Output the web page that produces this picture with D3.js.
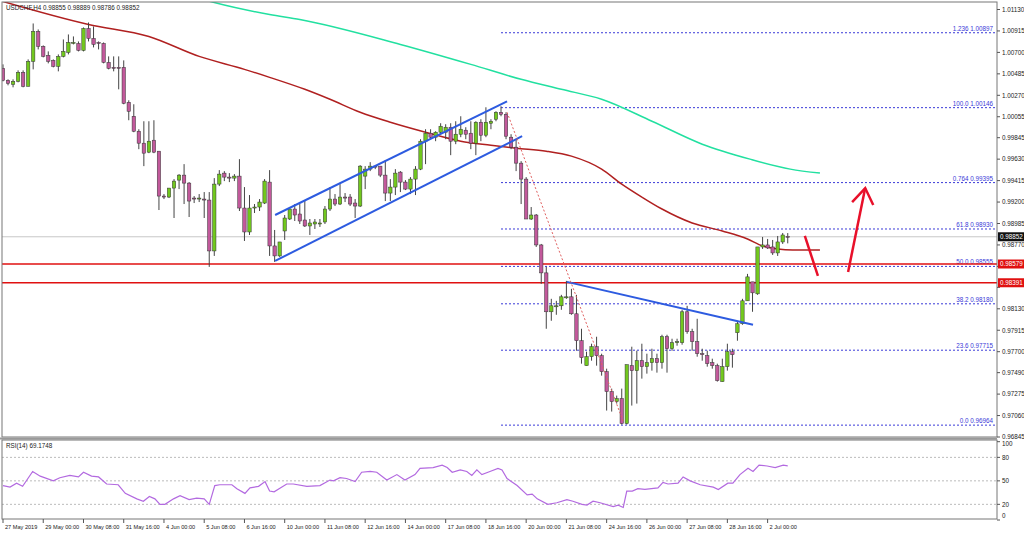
<!DOCTYPE html>
<html><head><meta charset="utf-8">
<script src="https://cdn.jsdelivr.net/npm/d3@7"></script>
<style>body{margin:0;background:#fff}svg{display:block;font-family:"Liberation Sans",Arial,sans-serif}</style>
</head><body><svg id="c" width="1024" height="534"></svg>
<script>
const open=[1.0054,1.0042,1.0038,1.0041,1.0050,1.0036,1.0061,1.0091,1.0076,1.0067,
1.0062,1.0056,1.0066,1.0070,1.0079,1.0079,1.0072,1.0094,1.0084,1.0080,
1.0079,1.0060,1.0055,1.0055,1.0055,1.0020,1.0006,0.9991,0.9979,0.9970,
0.9982,0.9971,0.9926,0.9925,0.9934,0.9942,0.9947,0.9939,0.9924,0.9923,
0.9923,0.9922,0.9871,0.9938,0.9949,0.9945,0.9944,0.9946,0.9914,0.9890,
0.9914,0.9915,0.9919,0.9940,0.9876,0.9866,0.9891,0.9903,0.9913,0.9908,
0.9902,0.9896,0.9898,0.9898,0.9900,0.9913,0.9923,0.9918,0.9925,0.9925,
0.9919,0.9916,0.9946,0.9953,0.9956,0.9956,0.9947,0.9929,0.9935,0.9950,
0.9940,0.9933,0.9943,0.9953,0.9981,0.9989,0.9985,0.9990,0.9990,0.9995,
0.9981,0.9988,0.9992,0.9989,0.9979,1.0000,0.9987,0.9999,1.0003,1.0010,
1.0008,0.9985,0.9975,0.9959,0.9943,0.9903,0.9907,0.9877,0.9849,0.9810,
0.9815,0.9816,0.9824,0.9825,0.9808,0.9781,0.9756,0.9765,0.9775,0.9766,
0.9750,0.9730,0.9720,0.9723,0.9698,0.9756,0.9751,0.9761,0.9755,0.9759,
0.9763,0.9759,0.9785,0.9773,0.9779,0.9779,0.9810,0.9790,0.9780,0.9768,
0.9766,0.9759,0.9756,0.9740,0.9755,0.9770,0.9789,0.9798,0.9821,0.9840,
0.9828,0.9875,0.9877,0.9875,0.9869,0.9880,0.98855];
const high=[1.0058,1.0043,1.0043,1.0052,1.0052,1.0063,1.0099,1.0093,1.0077,1.0071,
1.0063,1.0068,1.0083,1.0088,1.0086,1.0081,1.0095,1.0100,1.0096,1.0081,
1.0080,1.0066,1.0066,1.0066,1.0062,1.0022,1.0018,0.9993,1.0001,1.0001,
1.0002,0.9971,0.9928,0.9934,0.9943,0.9948,0.9958,0.9940,0.9926,0.9928,
0.9930,0.9930,0.9944,0.9952,0.9951,0.9949,0.9948,0.9963,0.9935,0.9927,
0.9918,0.9923,0.9943,0.9952,0.9892,0.9880,0.9907,0.9915,0.9918,0.9918,
0.9922,0.9903,0.9903,0.9903,0.9916,0.9935,0.9928,0.9938,0.9929,0.9928,
0.9923,0.9957,0.9956,0.9960,0.9956,0.9956,0.9962,0.9943,0.9953,0.9951,
0.9942,0.9945,0.9956,0.9983,0.9993,0.9993,0.9991,0.9999,0.9998,0.9999,
1.0001,1.0006,0.9995,1.0001,1.0001,1.0003,1.0015,1.0003,1.0011,1.0016,
1.0010,0.9988,0.9983,0.9961,0.9945,0.9915,0.9908,0.9878,0.9855,0.9823,
0.9821,0.9827,0.9841,0.9833,0.9827,0.9793,0.9770,0.9778,0.9785,0.9768,
0.9753,0.9733,0.9726,0.9733,0.9757,0.9775,0.9771,0.9778,0.9768,0.9773,
0.9768,0.9787,0.9787,0.9783,0.9783,0.9812,0.9816,0.9793,0.9803,0.9773,
0.9771,0.9763,0.9758,0.9763,0.9778,0.9773,0.9801,0.9823,0.9848,0.9840,
0.9875,0.9885,0.9883,0.9882,0.9886,0.9889,0.98889];
const low=[1.0041,1.0037,1.0035,1.0040,1.0035,1.0036,1.0053,1.0073,1.0065,1.0059,
1.0055,1.0051,1.0065,1.0068,1.0078,1.0071,1.0071,1.0081,1.0075,1.0073,
1.0059,1.0053,1.0051,1.0033,1.0018,1.0002,0.9990,0.9973,0.9956,0.9969,
0.9969,0.9912,0.9923,0.9924,0.9904,0.9933,0.9918,0.9905,0.9919,0.9920,
0.9904,0.9855,0.9866,0.9936,0.9941,0.9940,0.9941,0.9911,0.9881,0.9887,
0.9909,0.9911,0.9918,0.9866,0.9860,0.9865,0.9882,0.9902,0.9901,0.9898,
0.9895,0.9887,0.9893,0.9895,0.9898,0.9911,0.9916,0.9917,0.9920,0.9916,
0.9904,0.9915,0.9933,0.9951,0.9953,0.9945,0.9921,0.9921,0.9927,0.9930,
0.9932,0.9928,0.9927,0.9952,0.9958,0.9983,0.9981,0.9988,0.9983,0.9967,
0.9978,0.9985,0.9983,0.9973,0.9967,0.9981,0.9985,0.9993,1.0001,1.0006,
0.9983,0.9973,0.9951,0.9918,0.9903,0.9902,0.9875,0.9838,0.9793,0.9801,
0.9807,0.9812,0.9823,0.9807,0.9771,0.9758,0.9756,0.9761,0.9756,0.9746,
0.9711,0.9710,0.9718,0.9697,0.9697,0.9716,0.9718,0.9743,0.9748,0.9751,
0.9749,0.9753,0.9749,0.9771,0.9776,0.9777,0.9788,0.9771,0.9765,0.9761,
0.9755,0.9753,0.9740,0.9740,0.9751,0.9754,0.9781,0.9797,0.9821,0.9810,
0.9827,0.9873,0.9873,0.9867,0.9866,0.9878,0.98786];
const close=[1.0042,1.0039,1.0041,1.0050,1.0036,1.0061,1.0091,1.0076,1.0066,1.0061,
1.0056,1.0066,1.0071,1.0080,1.0080,1.0072,1.0094,1.0084,1.0078,1.0079,
1.0060,1.0054,1.0054,1.0054,1.0019,1.0011,0.9991,0.9979,0.9969,0.9981,
0.9970,0.9926,0.9925,0.9934,0.9941,0.9947,0.9939,0.9921,0.9923,0.9924,
0.9922,0.9871,0.9938,0.9948,0.9945,0.9944,0.9946,0.9914,0.9890,0.9914,
0.9915,0.9920,0.9941,0.9876,0.9866,0.9880,0.9904,0.9913,0.9907,0.9901,
0.9896,0.9899,0.9900,0.9899,0.9913,0.9923,0.9918,0.9925,0.9924,0.9918,
0.9916,0.9956,0.9953,0.9956,0.9955,0.9947,0.9929,0.9935,0.9949,0.9940,
0.9933,0.9943,0.9953,0.9981,0.9989,0.9985,0.9990,0.9996,0.9995,0.9981,
0.9988,0.9993,0.9988,0.9979,1.0000,0.9987,1.0000,1.0001,1.0010,1.0008,
0.9986,0.9975,0.9959,0.9943,0.9903,0.9907,0.9877,0.9849,0.9810,0.9816,
0.9816,0.9825,0.9825,0.9808,0.9781,0.9764,0.9765,0.9775,0.9766,0.9750,
0.9730,0.9720,0.9723,0.9698,0.9757,0.9751,0.9761,0.9755,0.9759,0.9763,
0.9759,0.9785,0.9773,0.9779,0.9780,0.9810,0.9790,0.9780,0.9768,0.9767,
0.9758,0.9756,0.9741,0.9755,0.9770,0.9767,0.9798,0.9821,0.9845,0.9829,
0.9875,0.9877,0.9874,0.9869,0.9880,0.9887,0.98852];

const ma100=[[0,1.0121],[17,1.0098],[29,1.0086],[39,1.0066],[48,1.0053],[53,1.0045],[60,1.0033],[65,1.0023],[71,1.0010],[77,1.0000],[84,0.9990],[91,0.9981],[97,0.9977],[102,0.9974],[108,0.9971],[113,0.9966],[119,0.9953],[123,0.9938],[127,0.9925],[131,0.9913],[137,0.9899],[143,0.9891],[148,0.9883],[151,0.9876],[154,0.9873],[157,0.9872],[162.4,0.9872]];
const ma200=[[40.5,1.0122],[42,1.0120],[53,1.0108],[59,1.0103],[79,1.0078],[93,1.0058],[103,1.0043],[111,1.0033],[119,1.0023],[129,1.0001],[139,0.9978],[148.5,0.9963],[156.5,0.9953],[162.4,0.9949]];
const rsi=[[0,44],[1.4,42],[2.7,47],[3.9,43],[5.9,62],[7.4,56],[10,50],[11.3,54],[13.3,57],[15,55],[16,61],[17.6,56],[19,55],[20.6,46],[22.9,45],[24.3,34],[26.6,27],[27.9,24],[29.1,30],[30.2,27],[31.2,20],[32.2,20],[33.9,27],[35.2,31],[37,26],[38.5,28],[40,27],[41,20],[42.1,44],[43.1,45],[45.5,45],[46.5,40],[48.1,34],[49.1,41],[50.8,43],[52.1,49],[53,37],[53.9,36],[56.4,46],[57.7,46],[60.4,43],[63,44],[65,51],[65.7,50],[67,54],[68.3,53],[70,49],[71.3,61],[73,62],[74.3,61],[76.3,51],[78.3,58],[79.9,51],[81.9,58],[82.9,66],[85.5,67],[87.3,70],[88.3,67],[89.3,61],[90.9,64],[92.2,62],[93.2,57],[94.2,64],[95.2,58],[96.8,62],[98.4,66],[99.2,64],[100.2,53],[102.2,44],[104.2,32],[105.2,33],[106.2,27],[108.3,20],[110.1,22],[112.1,26],[113.3,24],[115.1,20],[116.1,19],[117.3,24],[118.7,22],[121.3,17],[122.3,19],[123.3,16],[124,37],[125.1,37],[126.2,40],[127.6,39],[130.2,41],[131.2,48],[132.2,46],[134.2,47],[135.2,55],[136.6,50],[138.6,45],[141.2,42],[142.2,39],[144.1,47],[145.1,47],[146.5,58],[148.1,66],[149.1,62],[150.3,70],[151.9,69],[153.5,67],[155.1,70],[156,69.17]];
const fibRatios=["1.236","100.0","0.764","61.8","50.0","38.2","23.6","0.0"];
const fibPrices=[1.00897,1.00146,0.99395,0.98930,0.98555,0.98180,0.97715,0.96964];
const supportLevels=[0.98579,0.98391];
const lastPrice=0.98852;
const priceTicks=["1.01130","1.00915","1.00700","1.00485","1.00270","1.00055","0.99845","0.99630","0.99415","0.99200","0.98985","0.98770","0.98555","0.98345","0.98130","0.97915","0.97700","0.97490","0.97275","0.97060","0.96845"];
const rsiTicks=[100,80,50,20,0];
const rsiLevels=[80,50,20];
const timeLabels=["27 May 2019","29 May 00:00","30 May 08:00","31 May 16:00","4 Jun 00:00","5 Jun 08:00","6 Jun 16:00","10 Jun 00:00","11 Jun 08:00","12 Jun 16:00","14 Jun 00:00","17 Jun 08:00","18 Jun 16:00","20 Jun 00:00","21 Jun 08:00","24 Jun 16:00","26 Jun 00:00","27 Jun 08:00","28 Jun 16:00","2 Jul 00:00"];
const barsPerLabel=8;
const channelUpper=[[54.1,0.9907],[100.2,1.0021]];
const channelLower=[[54.1,0.9861],[103.2,0.9986]];
const fallingLine=[[112.1,0.9840],[149.1,0.9797]];
const fibLine=[[100.2,1.0010],[123.3,0.9700]];
const redSlash=[[159.4,0.9886],[162,0.9846]];
const upArrow=[[168,0.9850],[171.4,0.9934]];
const upArrowHead=[[168.8,0.9920],[171.4,0.9934],[173,0.9917]];

const svg=d3.select("#c");
const L=2,R=997,T=2,B=437,RT=440,RB=519;
const x=d3.scaleLinear().domain([0,197.6]).range([3,997]);
const y=d3.scaleLinear().domain([0.96845,1.01130]).range([437,9.5]);
const yr=d3.scaleLinear().domain([0,100]).range([520,441.7]);
svg.append("defs").append("clipPath").attr("id","cm").append("rect").attr("x",L).attr("y",T).attr("width",R-L).attr("height",B-T);
svg.append("defs").append("clipPath").attr("id","cr").append("rect").attr("x",L).attr("y",RT).attr("width",R-L).attr("height",RB-RT);
const gm=svg.append("g").attr("clip-path","url(#cm)");
const gr=svg.append("g").attr("clip-path","url(#cr)");
const line=d3.line().x(d=>x(d[0])).y(d=>y(d[1]));
const FS=6.3;

gm.append("line").attr("x1",L).attr("x2",R).attr("y1",y(lastPrice)).attr("y2",y(lastPrice)).attr("stroke","#c8c8c8");
fibPrices.forEach((p,k)=>{
  gm.append("line").attr("x1",x(99)).attr("x2",R).attr("y1",y(p)).attr("y2",y(p)).attr("stroke","#3a3ad8").attr("stroke-dasharray","2,2");
  gm.append("text").attr("x",R-4).attr("y",y(p)-2).attr("text-anchor","end").attr("font-size",FS).attr("fill","#3a3ad8").text(fibRatios[k]+" "+p.toFixed(5));
});
supportLevels.forEach(p=>gm.append("line").attr("x1",L).attr("x2",R).attr("y1",y(p)).attr("y2",y(p)).attr("stroke","#e01010").attr("stroke-width",1.5));
gm.append("path").datum(ma200).attr("d",line.curve(d3.curveMonotoneX)).attr("fill","none").attr("stroke","#22e0a0").attr("stroke-width",1.5);
gm.append("path").datum(ma100).attr("d",line.curve(d3.curveMonotoneX)).attr("fill","none").attr("stroke","#b02020").attr("stroke-width",1.5);
line.curve(d3.curveLinear);
const bw=3.4;
open.forEach((o,i)=>{
  const c=close[i],up=c>=o;
  gm.append("line").attr("x1",x(i)).attr("x2",x(i)).attr("y1",y(high[i])).attr("y2",y(low[i])).attr("stroke","#444");
  const y1=y(Math.max(o,c)),y2=y(Math.min(o,c));
  gm.append("rect").attr("x",x(i)-bw/2).attr("y",y1).attr("width",bw).attr("height",Math.max(y2-y1,0.8))
    .attr("fill",up?"#72c81e":"#c2599b").attr("stroke","#333").attr("stroke-width",0.5);
});
[channelUpper,channelLower,fallingLine].forEach(d=>gm.append("path").datum(d).attr("d",line).attr("stroke","#2d5be0").attr("stroke-width",2).attr("fill","none"));
gm.append("path").datum(fibLine).attr("d",line).attr("stroke","#e06060").attr("stroke-dasharray","2,2").attr("fill","none");
[redSlash,upArrow,upArrowHead].forEach(d=>gm.append("path").datum(d).attr("d",line).attr("stroke","#e8102a").attr("stroke-width",2.5).attr("fill","none"));
svg.append("text").attr("x",6).attr("y",10).attr("font-size",FS).attr("fill","#222").text("USDCHF,H4  0.98855 0.98889 0.98786 0.98852");
svg.append("rect").attr("x",L).attr("y",T).attr("width",R-L).attr("height",B-T).attr("fill","none").attr("stroke","#777");
svg.append("line").attr("x1",0).attr("x2",R).attr("y1",B+1.5).attr("y2",B+1.5).attr("stroke","#999").attr("stroke-width",2);
svg.append("rect").attr("x",L).attr("y",RT).attr("width",R-L).attr("height",RB-RT).attr("fill","none").attr("stroke","#777");
const tags=supportLevels.concat([lastPrice]);
priceTicks.forEach(t=>{
  const v=+t, yy=y(v);
  svg.append("line").attr("x1",R).attr("x2",R+3).attr("y1",yy).attr("y2",yy).attr("stroke","#555");
  if(tags.some(p=>Math.abs(y(p)-yy)<7)) return;
  svg.append("text").attr("x",R+5).attr("y",yy+2.3).attr("font-size",FS).attr("fill","#222").text(t);
});
function tag(p,bg){const yy=y(p);
  svg.append("rect").attr("x",R+1).attr("y",yy-4.5).attr("width",26).attr("height",9).attr("fill",bg);
  svg.append("text").attr("x",R+3).attr("y",yy+2.3).attr("font-size",FS).attr("fill","#fff").text(p.toFixed(5));}
supportLevels.forEach(p=>tag(p,"#e01010"));
tag(lastPrice,"#111");
rsiLevels.forEach(v=>gr.append("line").attr("x1",L).attr("x2",R).attr("y1",yr(v)).attr("y2",yr(v)).attr("stroke","#bbb").attr("stroke-dasharray","2,2"));
gr.append("path").datum(rsi).attr("d",d3.line().x(d=>x(d[0])).y(d=>yr(d[1]))).attr("fill","none").attr("stroke","#b36ae0").attr("stroke-width",1.2);
svg.append("text").attr("x",6).attr("y",448).attr("font-size",FS).attr("fill","#222").text("RSI(14) 69.1748");
rsiTicks.forEach(v=>{
  const yy=Math.min(Math.max(yr(v),444),516);
  svg.append("line").attr("x1",R).attr("x2",R+3).attr("y1",yr(v)).attr("y2",yr(v)).attr("stroke","#555");
  svg.append("text").attr("x",R+5).attr("y",yy+2.3).attr("font-size",FS).attr("fill","#222").text(v);
});
timeLabels.forEach((t,k)=>{
  const xx=x(k*barsPerLabel);
  svg.append("line").attr("x1",xx).attr("x2",xx).attr("y1",RB).attr("y2",RB+4).attr("stroke","#555");
  svg.append("text").attr("x",xx+2).attr("y",529).attr("font-size",5.6).attr("fill","#222").text(t);
});
</script></body></html>
